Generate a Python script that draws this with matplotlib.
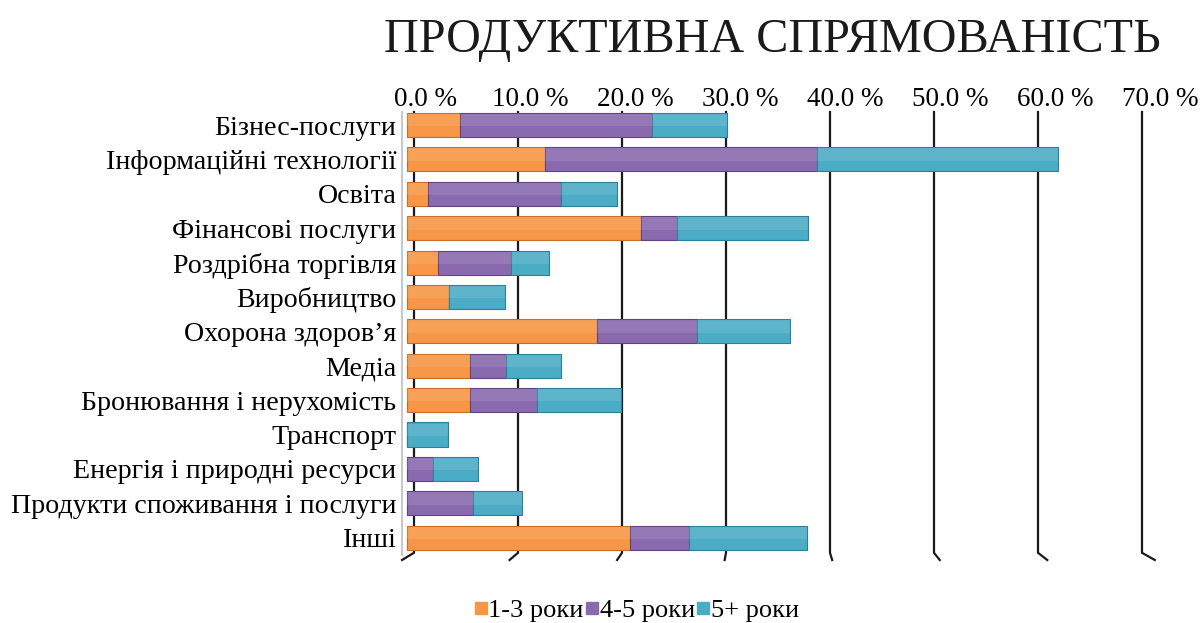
import matplotlib
matplotlib.use("Agg")
import matplotlib.pyplot as plt
import numpy as np
from matplotlib.lines import Line2D
from matplotlib.transforms import ScaledTranslation

plt.rcParams["font.family"] = ["Liberation Serif", "DejaVu Serif"]

categories = [
    "Бізнес-послуги",
    "Інформаційні технології",
    "Освіта",
    "Фінансові послуги",
    "Роздрібна торгівля",
    "Виробництво",
    "Охорона здоров’я",
    "Медіа",
    "Бронювання і нерухомість",
    "Транспорт",
    "Енергія і природні ресурси",
    "Продукти споживання і послуги",
    "Інші",
]
years_1_3 = [5.1, 13.3, 2.0, 22.5, 3.0, 4.0, 18.3, 6.1, 6.1, 0.0, 0.0, 0.0, 21.4]
years_4_5 = [18.5, 26.1, 12.8, 3.5, 7.0, 0.0, 9.6, 3.4, 6.4, 0.0, 2.5, 6.3, 5.7]
years_5_plus = [7.2, 23.2, 5.4, 12.6, 3.7, 5.4, 8.9, 5.3, 8.1, 3.9, 4.3, 4.8, 11.4]
series_names = ["1-3 роки", "4-5 роки", "5+ роки"]
colors = ["#F79646", "#8A6AAE", "#4BACC6"]
edge_colors = ["#C86E28", "#5E4580", "#2E8098"]
ticks = [0, 10, 20, 30, 40, 50, 60, 70]

fig = plt.figure(figsize=(12.03, 6.23), dpi=100)
ax = fig.add_axes((402 / 1203, 1 - 560 / 623, 792 / 1203, 448 / 623))

y = np.arange(len(categories))
# bars sit in front of the back wall, so shift them a few pixels left
bar_shift = ax.transData + ScaledTranslation(-7 / 100, 0, fig.dpi_scale_trans)

left = np.zeros(len(categories))
for vals, c, ec in zip([years_1_3, years_4_5, years_5_plus], colors, edge_colors):
    vals = np.array(vals)
    ax.barh(y, vals, left=left, height=0.7, color=c, edgecolor=ec,
            linewidth=0.8, transform=bar_shift, zorder=3)
    # soft top highlight for the glossy look
    ax.barh(y - 0.14, vals, left=left, height=0.36, color="white", alpha=0.1,
            linewidth=0, transform=bar_shift, zorder=4)
    left += vals

ax.set_xlim(-1.154, 75)
ax.set_ylim(12.65, -0.38)

# back-wall gridlines with perspective feet
for v in ticks:
    foot = -1.15 + 0.034 * v
    ax.plot([v, v, v + foot], [-0.38, 12.44, 12.65], color="#1a1a1a",
            lw=1.6, zorder=2, clip_on=False, solid_joinstyle="miter")

for side in ["top", "right", "bottom"]:
    ax.spines[side].set_visible(False)
ax.spines["left"].set_color("#c8c8c8")
ax.spines["left"].set_linewidth(1.5)
ax.spines["left"].set_bounds(12.5, -0.38)

ax.set_yticks(y)
ax.set_yticklabels(categories, fontsize=20.2)
ax.tick_params(axis="y", length=0, pad=4)

ax.xaxis.tick_top()
ax.set_xticks(ticks)
ax.set_xticklabels([f"{t:.1f} %" for t in ticks], fontsize=19.5)
ax.tick_params(axis="x", length=0, pad=0)
for t, lab in zip(ticks, ax.get_xticklabels()):
    dx = (11 + 0.1 * t) / 100
    lab.set_transform(lab.get_transform() + ScaledTranslation(dx, 0, fig.dpi_scale_trans))

fig.text(0.642, 1 - 52 / 623, "ПРОДУКТИВНА СПРЯМОВАНІСТЬ", fontsize=34.7,
         ha="center", va="baseline", color="#1a1a1a")

handles = [Line2D([], [], marker="s", linestyle="none", markersize=8,
                  markerfacecolor=c, markeredgecolor=c) for c in colors]
fig.legend(handles, series_names, loc="center", ncol=3,
           bbox_to_anchor=(637 / 1203, 1 - 610 / 623), frameon=False,
           fontsize=19, handlelength=0.45, handletextpad=0.05,
           columnspacing=0.1, borderpad=0)

fig.savefig("out.png", dpi=100)
